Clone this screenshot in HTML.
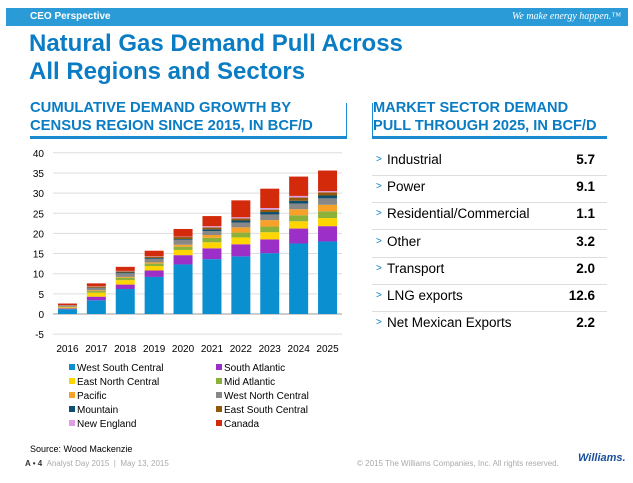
<!DOCTYPE html>
<html><head><meta charset="utf-8"><style>
body{margin:0;width:633px;height:483px;background:#fff;font-family:"Liberation Sans",sans-serif;position:relative;overflow:hidden}
.a{position:absolute;white-space:nowrap}
</style></head><body>
<div class="a" style="left:6px;top:8px;width:622px;height:18px;background:#2a9bd6"></div>
<div class="a" style="left:30px;top:11px;font-size:10px;font-weight:bold;color:#fff">CEO Perspective</div>
<div class="a" style="right:12px;top:11px;font-size:10px;font-style:italic;color:#fff;font-family:'Liberation Serif',serif">We make energy happen.™</div>
<div class="a" style="left:29px;top:30px;font-size:24px;font-weight:bold;color:#0a7cc4;line-height:28px">Natural Gas Demand Pull Across<br>All Regions and Sectors</div>
<div class="a" style="left:30px;top:99px;font-size:14.8px;font-weight:bold;color:#0a7cc4;line-height:18px">CUMULATIVE DEMAND GROWTH BY<br>CENSUS REGION SINCE 2015, IN BCF/D</div>
<div class="a" style="left:373px;top:99px;font-size:14.6px;font-weight:bold;color:#0a7cc4;line-height:18px">MARKET SECTOR DEMAND<br>PULL THROUGH 2025, IN BCF/D</div>
<div class="a" style="left:30px;top:136px;width:317px;height:3px;background:#1a8ad0"></div>
<div class="a" style="left:346px;top:103px;width:1px;height:34px;background:#1a8ad0"></div>
<div class="a" style="left:372px;top:136px;width:235px;height:3px;background:#1a8ad0"></div>
<div class="a" style="left:372px;top:103px;width:1px;height:34px;background:#1a8ad0"></div>

<svg class="a" style="left:0;top:140px" width="360" height="220" id="chart"></svg>

<div id="table"></div>

<div id="legend"></div>
<div class="a" style="left:30px;top:444px;font-size:9px;color:#000">Source: Wood Mackenzie</div>
<div class="a" style="left:25px;top:459px;font-size:8px;color:#333"><b>A • 4</b> <span style="color:#aaa">&nbsp;Analyst Day 2015 &nbsp;|&nbsp; May 13, 2015</span></div>
<div class="a" style="left:357px;top:459px;font-size:8px;color:#aaa">© 2015 The Williams Companies, Inc. All rights reserved.</div>
<div class="a" style="left:578px;top:452px;font-size:11px;font-weight:bold;font-style:italic;color:#1a4f9c">Williams.</div>
<script>
const years=["2016","2017","2018","2019","2020","2021","2022","2023","2024","2025"];
const series=["West South Central","South Atlantic","East North Central","Mid Atlantic","Pacific","West North Central","Mountain","East South Central","New England","Canada"];
const colors=["#0a8fd0","#9b2fc7","#ffd500","#8cb13b","#f7a128","#888888","#0d4f6e","#95580b","#df9ee6","#d42a0c"];
const wsc=[1.2,3.4,6.2,9.2,12.3,13.6,14.3,15.1,17.5,18.0];
const sa=[0.2,0.9,1.1,1.6,2.3,2.7,3.0,3.4,3.7,3.8];
const enc=[0.2,1.0,1.1,1.1,1.3,1.5,1.7,1.8,1.8,2.0];
const mida=[0.1,0.4,0.6,0.6,0.8,1.1,1.2,1.4,1.5,1.7];
const pac=[0.1,0.2,0.2,0.3,0.5,0.7,1.3,1.6,1.5,1.6];
const wnc=[0.2,0.5,0.9,0.9,1.2,1.0,1.2,1.4,1.4,1.6];
const mtn=[0.05,0.1,0.2,0.2,0.2,0.4,0.5,0.6,0.7,0.7];
const esc=[0.1,0.3,0.3,0.3,0.5,0.5,0.5,0.6,0.8,0.8];
const ne=[0.05,0.1,0.1,0.1,0.1,0.3,0.3,0.4,0.4,0.3];
const can=[0.4,0.7,1.0,1.4,1.9,2.5,4.2,4.8,4.8,5.1];
const values=[wsc,sa,enc,mida,pac,wnc,mtn,esc,ne,can];
const yTicks=[-5,0,5,10,15,20,25,30,35,40];
const sectors=["Industrial","Power","Residential/Commercial","Other","Transport","LNG exports","Net Mexican Exports"];
const sectorVals=["5.7","9.1","1.1","3.2","2.0","12.6","2.2"];

const NS="http://www.w3.org/2000/svg";
const svg=document.getElementById('chart');
const y0=174, ppu=4.03, x0=53, x1=342;
const yS=v=>y0-v*ppu;
const step=(x1-x0)/years.length;
const xS=i=>x0+step*(i+0.5);
function mk(t,a){const e=document.createElementNS(NS,t);for(const k in a)e.setAttribute(k,a[k]);svg.appendChild(e);return e;}
yTicks.forEach(t=>{
  const l=mk('line',{x1:x0,x2:x1,y1:yS(t),y2:yS(t),stroke:t===0?'#999':'#ddd','stroke-width':1});
  
  
  const tx=mk('text',{x:44,y:yS(t)+4,'text-anchor':'end','font-size':10,fill:'#000','font-family':'Liberation Sans, sans-serif'});
  tx.textContent=t;
  
  
});
years.forEach((yr,i)=>{
  let cum=0;const w=19;
  values.forEach((s,k)=>{
    const v=s[i];
    const r=mk('rect',{x:xS(i)-w/2,y:yS(cum+v),width:w,height:Math.max(0,v*ppu),fill:colors[k]});
    
    
    cum+=v;
  });
  const tx=mk('text',{x:xS(i),y:212,'text-anchor':'middle','font-size':10,fill:'#000','font-family':'Liberation Sans, sans-serif'});
  tx.textContent=yr;
  
  
});

const tb=document.getElementById('table');
sectors.forEach((s,i)=>{
  const top=149+i*27.2;
  const row=document.createElement('div');
  row.className='a';
  row.style.cssText=`left:372px;top:${top}px;width:235px;height:26px;${i<6?'border-bottom:1px solid #ddd;':''}`;
  
  
  row.innerHTML=`<span style="position:absolute;left:4px;top:5px;font-size:10px;color:#0a7cc4">&gt;</span><span style="position:absolute;left:15px;top:3px;font-size:13.5px;color:#000">${s}</span><span style="position:absolute;right:12px;top:3px;font-size:13.5px;font-weight:bold;color:#000">${sectorVals[i]}</span>`;
  tb.appendChild(row);
});

const lg=document.getElementById('legend');
series.forEach((s,k)=>{
  const col=k%2,row=Math.floor(k/2);
  const d=document.createElement('div');
  d.className='a';
  d.style.cssText=`left:${col?216:69}px;top:${363+row*14}px;font-size:10px;color:#000`;
  
  
  d.innerHTML=`<span style="display:inline-block;width:6px;height:6px;background:${colors[k]};margin-right:2px;vertical-align:1px"></span>${s}`;
  lg.appendChild(d);
});
</script>
</body></html>
